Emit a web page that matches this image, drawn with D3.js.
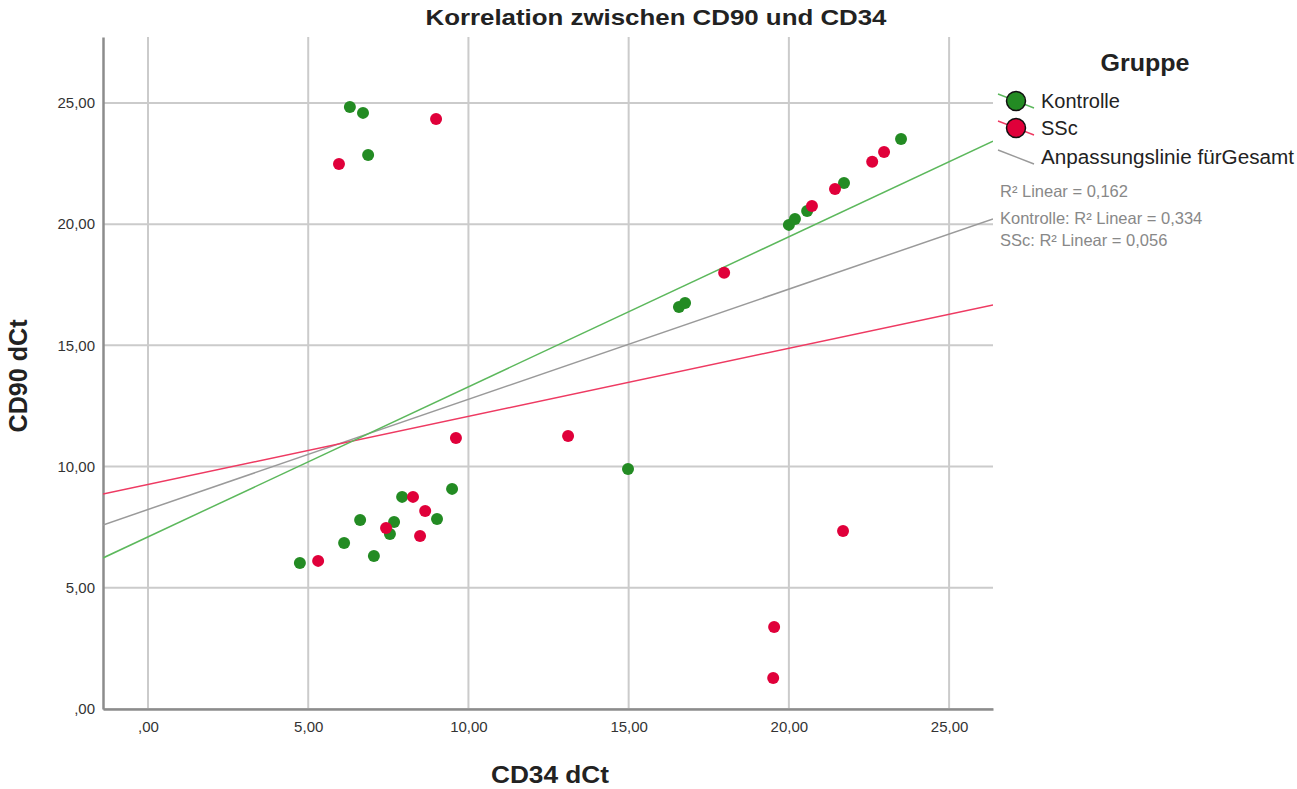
<!DOCTYPE html>
<html>
<head>
<meta charset="utf-8">
<script src="https://cdn.jsdelivr.net/npm/d3@7"></script>
<style>
  body { margin: 0; background: #fff; }
  svg { font-family: "Liberation Sans", Arial, sans-serif; }
</style>
</head>
<body>
<svg class="chart"></svg>
<script>
// CD34 dCt (x) / CD90 dCt (y) per group
const kontrolleX = [6.30, 6.71, 6.87, 4.74, 6.12, 6.62, 7.05, 7.55, 7.68, 7.93, 9.02, 9.49, 14.98, 16.57, 16.76, 20.00, 20.19, 20.57, 21.72, 23.50];
const kontrolleY = [24.83, 24.59, 22.85, 6.02, 6.85, 7.80, 6.31, 7.22, 7.71, 8.75, 7.84, 9.08, 9.90, 16.58, 16.75, 19.97, 20.21, 20.54, 21.70, 23.51];
const sscX = [5.96, 8.99, 5.31, 7.43, 8.27, 8.65, 8.49, 9.61, 13.11, 21.69, 19.54, 19.51, 17.98, 20.72, 21.44, 22.60, 22.97];
const sscY = [22.48, 24.34, 6.11, 7.47, 8.75, 8.17, 7.14, 11.18, 11.26, 7.34, 3.38, 1.28, 18.00, 20.75, 21.45, 22.57, 22.98];

// fit lines [intercept, slope]
const fitKontrolle = [7.10, 0.619];
const fitSSc = [9.26, 0.281];
const fitGesamt = [8.23, 0.4545];

const xTicks = [0, 5, 10, 15, 20, 25];
const yTicks = [0, 5, 10, 15, 20, 25];
const r2Labels = ["R² Linear = 0,162", "Kontrolle: R² Linear = 0,334", "SSc: R² Linear = 0,056"];

const width = 1297;
const height = 789;
const marginLeft = 103;
const marginRight = 304;
const marginTop = 37;
const marginBottom = 80;

const green = "#238b23";
const red = "#e0003a";
const greenLine = "#5cb85c";
const redLine = "#ee3a62";
const grayLine = "#9a9a9a";

const fmt = v => (v === 0 ? ",00" : v.toFixed(2).replace(".", ","));

const x = d3.scaleLinear()
  .domain([-1.404, 26.37])
  .range([marginLeft, width - marginRight]);

const y = d3.scaleLinear()
  .domain([0, 27.72])
  .range([height - marginBottom, marginTop]);

const svg = d3.select("svg.chart")
  .attr("width", width)
  .attr("height", height)
  .attr("viewBox", `0 0 ${width} ${height}`);

svg.append("defs").append("clipPath")
  .attr("id", "plot-clip")
  .append("rect")
  .attr("x", marginLeft)
  .attr("y", marginTop)
  .attr("width", width - marginRight - marginLeft)
  .attr("height", height - marginBottom - marginTop);

// Gridlines
svg.append("g")
  .attr("stroke", "#cbcbcb")
  .attr("stroke-width", 2)
  .selectAll("line")
  .data(xTicks)
  .join("line")
  .attr("x1", d => x(d)).attr("x2", d => x(d))
  .attr("y1", marginTop).attr("y2", height - marginBottom);

svg.append("g")
  .attr("stroke", "#cbcbcb")
  .attr("stroke-width", 2)
  .selectAll("line")
  .data(yTicks)
  .join("line")
  .attr("x1", marginLeft).attr("x2", width - marginRight)
  .attr("y1", d => y(d)).attr("y2", d => y(d));

// Axes
svg.append("g")
  .attr("transform", `translate(0,${height - marginBottom})`)
  .call(d3.axisBottom(x).tickValues(xTicks).tickFormat(fmt).tickSize(0).tickPadding(12))
  .call(g => g.select(".domain").attr("stroke", "#8c8c8c").attr("stroke-width", 2.5))
  .call(g => g.selectAll("text").attr("font-size", 15).attr("fill", "#333").attr("font-family", "Liberation Sans, Arial"));

svg.append("g")
  .attr("transform", `translate(${marginLeft},0)`)
  .call(d3.axisLeft(y).tickValues(yTicks).tickFormat(fmt).tickSize(0).tickPadding(8))
  .call(g => g.select(".domain").attr("stroke", "#8c8c8c").attr("stroke-width", 2.5))
  .call(g => g.selectAll("text").attr("font-size", 15).attr("fill", "#333").attr("font-family", "Liberation Sans, Arial"));

// Fit lines
const fits = [
  { f: fitGesamt, color: grayLine },
  { f: fitSSc, color: redLine },
  { f: fitKontrolle, color: greenLine }
];
const line = d3.line().x(d => x(d[0])).y(d => y(d[1]));
svg.append("g")
  .attr("clip-path", "url(#plot-clip)")
  .attr("fill", "none")
  .attr("stroke-width", 1.5)
  .selectAll("path")
  .data(fits)
  .join("path")
  .attr("stroke", d => d.color)
  .attr("d", d => line(x.domain().map(v => [v, d.f[0] + d.f[1] * v])));

// Points
const points = [
  ...kontrolleX.map((v, i) => ({ x: v, y: kontrolleY[i], c: green })),
  ...sscX.map((v, i) => ({ x: v, y: sscY[i], c: red }))
];
svg.append("g")
  .selectAll("circle")
  .data(points)
  .join("circle")
  .attr("cx", d => x(d.x))
  .attr("cy", d => y(d.y))
  .attr("r", 6)
  .attr("fill", d => d.c);

// Titles
svg.append("text")
  .attr("x", 656).attr("y", 25)
  .attr("text-anchor", "middle")
  .attr("font-size", 22).attr("font-weight", "bold").attr("fill", "#222")
  .attr("textLength", 461).attr("lengthAdjust", "spacingAndGlyphs")
  .text("Korrelation zwischen CD90 und CD34");

svg.append("text")
  .attr("x", 550).attr("y", 783)
  .attr("text-anchor", "middle")
  .attr("font-size", 24).attr("font-weight", "bold").attr("fill", "#222")
  .attr("textLength", 118).attr("lengthAdjust", "spacingAndGlyphs")
  .text("CD34 dCt");

svg.append("text")
  .attr("transform", "translate(27,376) rotate(-90)")
  .attr("text-anchor", "middle")
  .attr("font-size", 25).attr("font-weight", "bold").attr("fill", "#222")
  .attr("textLength", 113).attr("lengthAdjust", "spacingAndGlyphs")
  .text("CD90 dCt");

// Legend
const legend = svg.append("g");
legend.append("text")
  .attr("x", 1145).attr("y", 71)
  .attr("text-anchor", "middle")
  .attr("font-size", 23).attr("font-weight", "bold").attr("fill", "#222")
  .attr("textLength", 89).attr("lengthAdjust", "spacingAndGlyphs")
  .text("Gruppe");

const entries = [
  { label: "Kontrolle", lc: greenLine, fill: green, y: 101 },
  { label: "SSc", lc: redLine, fill: red, y: 128 }
];
entries.forEach(e => {
  legend.append("line")
    .attr("x1", 998).attr("y1", e.y - 7).attr("x2", 1034).attr("y2", e.y + 7)
    .attr("stroke", e.lc).attr("stroke-width", 1.5);
  legend.append("circle")
    .attr("cx", 1016).attr("cy", e.y).attr("r", 9.5)
    .attr("fill", e.fill).attr("stroke", "#111").attr("stroke-width", 1.5);
  legend.append("text")
    .attr("x", 1041).attr("y", e.y + 7)
    .attr("font-size", 20).attr("fill", "#222")
    .text(e.label);
});
legend.append("line")
  .attr("x1", 998).attr("y1", 150).attr("x2", 1034).attr("y2", 164)
  .attr("stroke", grayLine).attr("stroke-width", 1.5);
legend.append("text")
  .attr("x", 1041).attr("y", 164)
  .attr("font-size", 20).attr("fill", "#222")
  .attr("textLength", 253).attr("lengthAdjust", "spacingAndGlyphs")
  .text("Anpassungslinie fürGesamt");

legend.selectAll("text.r2")
  .data(r2Labels)
  .join("text")
  .attr("class", "r2")
  .attr("x", 1000)
  .attr("y", (d, i) => [197, 224, 246][i])
  .attr("font-size", 16.5).attr("fill", "#888")
  .text(d => d);
</script>
</body>
</html>
